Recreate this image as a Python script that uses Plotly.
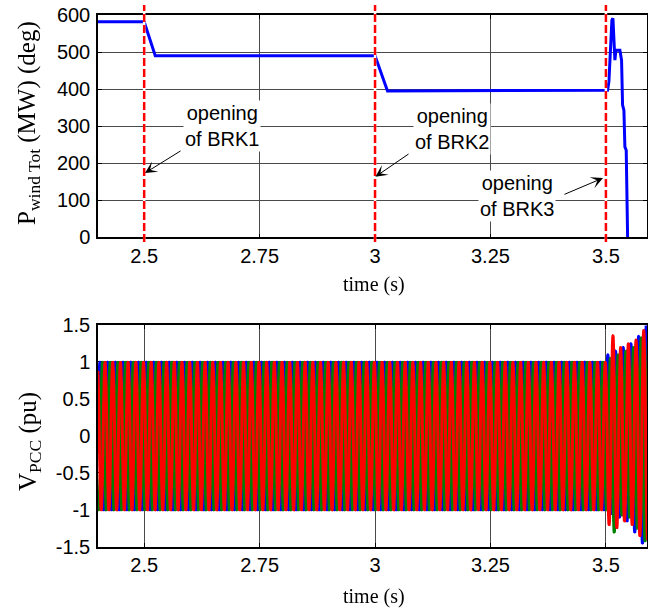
import numpy as np
import plotly.graph_objects as go

# ---------------- data ----------------
# top panel: total wind power (MW)
p_time = [2.4, 2.5, 2.524, 3.0, 3.027, 3.5, 3.5036, 3.5065, 3.5108, 3.5130,
          3.5152, 3.5173, 3.5195, 3.5216, 3.5303, 3.5339, 3.5361, 3.539,
          3.5411, 3.544, 3.5462, 3.547]
p_mw = [582, 582, 490, 490, 395, 395, 397, 420, 550, 586,
        591, 523, 478, 505, 505, 478, 357, 343,
        244, 235, 10, 0]

brk_times = [2.5, 3.0, 3.5]
brk_labels = ["opening<br>of BRK1", "opening<br>of BRK2", "opening<br>of BRK3"]

# bottom panel: three-phase PCC voltage (pu)
f_hz = 60.0
t_fault = 3.5
amp_pre = 1.0
# half-cycle peak magnitudes after BRK3 opening
amps_blue = [1.0, 1.1, 1.05, 1.15, 1.1, 1.2, 1.15, 1.25, 1.3, 1.35, 1.45, 1.5, 1.45]
amps_green = [1.0, 1.05, 1.3, 1.1, 1.07, 1.15, 1.1, 1.2, 1.25, 1.33, 1.42, 1.4, 1.4]
amps_red = [1.0, 1.2, 1.36, 1.24, 1.2, 1.15, 1.25, 1.2, 1.3, 1.35, 1.43, 1.4, 1.4]

x_ticks = [2.5, 2.75, 3, 3.25, 3.5]
x_ticklabels = ["2.5", "2.75", "3", "3.25", "3.5"]
p_ticks = [0, 100, 200, 300, 400, 500, 600]
v_ticks = [-1.5, -1, -0.5, 0, 0.5, 1, 1.5]
v_ticklabels = ["-1.5", "-1", "-0.5", "0", "0.5", "1", "1.5"]

# ---------------- waveform build ----------------
t = np.arange(2.4, 3.592, 1.0 / 12000.0)


def phase_wave(phi, amps):
    theta = 2 * np.pi * f_hz * t + phi
    n = np.floor(theta / np.pi)
    n0 = np.floor((2 * np.pi * f_hz * t_fault + phi) / np.pi)
    k = (n - n0).astype(int)
    a = np.array(amps)
    A = np.where(k < 0, amp_pre, a[np.clip(k, 0, len(a) - 1)])
    return A * np.sin(theta)


v_blue = phase_wave(0.0, amps_blue)
v_green = phase_wave(-2 * np.pi / 3, amps_green)
v_red = phase_wave(2 * np.pi / 3, amps_red)

# ---------------- figure ----------------
W, H = 648, 610
ML, MR = 98, 1
PW = W - ML - MR
fig = go.Figure()

fig.add_trace(go.Scatter(x=p_time, y=p_mw, mode="lines",
                         line=dict(color="#0000FF", width=3),
                         xaxis="x", yaxis="y", showlegend=False, hoverinfo="skip"))

for v, c in [(v_blue, "#0000FF"), (v_green, "#008000"), (v_red, "#FF0000")]:
    fig.add_trace(go.Scattergl(x=t, y=v, mode="lines",
                               line=dict(color=c, width=3),
                               xaxis="x2", yaxis="y2", showlegend=False,
                               hoverinfo="skip"))

grid_col = "#4a4a4a"
tickfont = dict(family="Liberation Sans, Arial, sans-serif", size=20, color="black")
xr = [2.4, 3.589]


def xaxis_common(anchor):
    return dict(range=xr, domain=[0, 1], anchor=anchor,
                tickvals=x_ticks, ticktext=x_ticklabels,
                showgrid=True, gridcolor=grid_col, gridwidth=1,
                showline=True, linecolor="black", linewidth=1.5, mirror="allticks",
                ticks="inside", ticklen=4, tickcolor="black", tickwidth=1,
                tickfont=tickfont, ticklabelstandoff=0, zeroline=False,
                automargin=False)


def yaxis_common(rng, dom, anchor, vals, text):
    return dict(range=rng, domain=dom, anchor=anchor,
                tickvals=vals, ticktext=text,
                showgrid=True, gridcolor=grid_col, gridwidth=1,
                showline=True, linecolor="black", linewidth=1.5, mirror="allticks",
                ticks="inside", ticklen=4, tickcolor="black", tickwidth=1,
                tickfont=tickfont, ticklabelstandoff=2, zeroline=False,
                automargin=False)


top_dom = [1 - 237.3 / H, 1 - 15 / H]
bot_dom = [1 - 546.7 / H, 1 - 325 / H]

fig.update_layout(
    width=W, height=H,
    margin=dict(l=ML, r=MR, t=0, b=0, autoexpand=False),
    paper_bgcolor="white", plot_bgcolor="white",
    xaxis=xaxis_common("y"),
    xaxis2=xaxis_common("y2"),
    yaxis=yaxis_common([0, 600], top_dom, "x", p_ticks, [str(v) for v in p_ticks]),
    yaxis2=yaxis_common([-1.5, 1.5], bot_dom, "x2", v_ticks, v_ticklabels),
)

# breaker opening lines
shapes = []
for tb in brk_times:
    for col, w, dash in [("white", 2.5, "solid"), ("#FF0000", 2.5, "8px,3px")]:
        shapes.append(dict(type="line", xref="x", yref="paper",
                           x0=tb, x1=tb, y0=1 - 242 / H, y1=1 - 5 / H,
                           line=dict(color=col, width=w, dash=dash), layer="above"))
fig.update_layout(shapes=shapes)

annfont = dict(family="Liberation Sans, Arial, sans-serif", size=20, color="black")
label_pos = [(2.6686, 300), (3.166, 293), (3.307, 111)]
arrow_pos = [((2.5018, 173.5), (2.582, 235.6)),
             ((3.0008, 163.6), (3.0758, 227.5)),
             ((3.4938, 160.0), (3.407, 114.2))]
anns = []
for lab, (lx, ly) in zip(brk_labels, label_pos):
    anns.append(dict(x=lx, y=ly, xref="x", yref="y", text=lab, showarrow=False,
                     font=annfont, bgcolor="white", borderpad=1,
                     xanchor="center", yanchor="middle"))
for (hx, hy), (tx, ty) in arrow_pos:
    anns.append(dict(x=hx, y=hy, xref="x", yref="y", ax=tx, ay=ty,
                     axref="x", ayref="y", text="", showarrow=True,
                     arrowhead=3, arrowsize=2, arrowwidth=1, arrowcolor="black",
                     standoff=0))


def px_x(p):
    return (p - ML) / PW


def px_y(p):
    return 1 - p / H


serif = "Liberation Serif, Times New Roman, serif"
titles = [
    (374, 284, "time (s)", 20, 0),
    (374, 596, "time (s)", 20, 0),
    (29, 123, "P<sub>wind Tot</sub> (MW) (deg)", 25, -90),
    (29, 442, "V<sub>PCC</sub> (pu)", 25, -90),
]
for x_, y_, txt, fs, ang in titles:
    anns.append(dict(x=px_x(x_), y=px_y(y_), xref="paper", yref="paper",
                     text=txt, showarrow=False, textangle=ang,
                     xanchor="center", yanchor="middle",
                     font=dict(family=serif, size=fs, color="black")))
fig.update_layout(annotations=anns)

fig.write_html("out.html")
